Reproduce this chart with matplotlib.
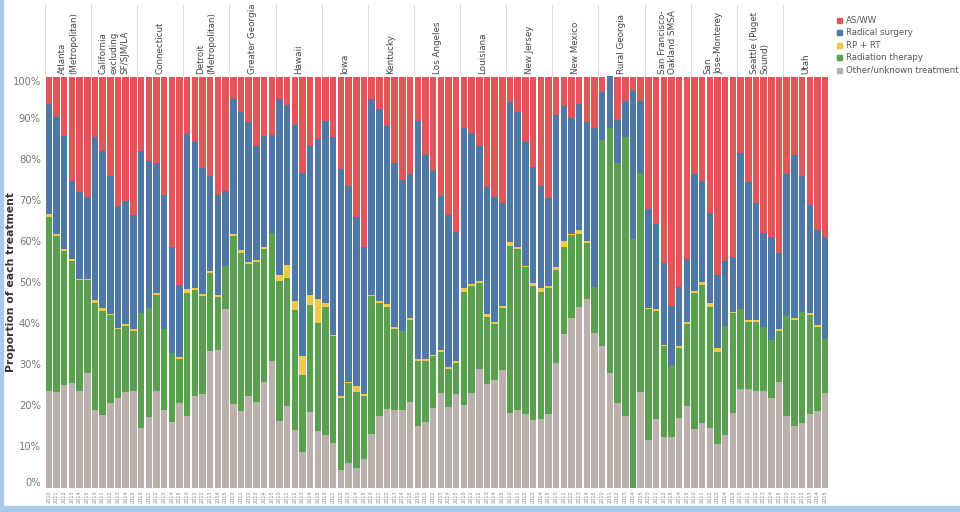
import numpy as np
import matplotlib.pyplot as plt
from matplotlib.patches import Rectangle

# SEER registries (6 diagnosis years each)
registries = ["Atlanta\n(Metropolitan)", "California\nexcluding\nSF/SJM/LA", "Connecticut",
              "Detroit\n(Metropolitan)", "Greater Georgia", "Hawaii", "Iowa", "Kentucky",
              "Los Angeles", "Louisiana", "New Jersey", "New Mexico", "Rural Georgia",
              "San Francisco-\nOakland SMSA", "San\nJose-Monterey", "Seattle (Puget\nSound)", "Utah"]
years = ["2010", "2011", "2012", "2013", "2014", "2015"]

# proportions (%) per registry/year, one row per registry
other = [23.6, 23.2, 25.0, 25.5, 23.5, 28.0,
         18.8, 17.6, 20.5, 21.7, 23.3, 23.6,
         14.4, 17.2, 23.6, 18.9, 15.9, 20.5,
         17.3, 22.3, 22.8, 33.3, 33.6, 43.4,
         20.3, 18.7, 22.3, 20.8, 25.8, 30.7,
         16.3, 19.8, 14.0, 8.6, 18.5, 13.8,
         12.8, 10.9, 4.3, 6.1, 4.7, 7.0,
         13.0, 17.5, 19.2, 18.9, 18.9, 20.8,
         15.0, 16.0, 19.3, 23.0, 19.7, 22.7,
         20.1, 23.1, 28.9, 25.1, 26.1, 28.6,
         18.1, 18.8, 17.9, 16.4, 16.8, 18.0,
         30.4, 37.4, 41.2, 43.9, 45.8, 37.7,
         34.4, 27.9, 20.7, 17.3, 0.0, 23.2,
         11.6, 16.8, 12.4, 12.2, 17.0, 19.8,
         14.2, 15.8, 14.4, 10.6, 12.8, 18.2,
         24.0, 24.1, 23.5, 23.6, 21.9, 25.6,
         17.4, 15.0, 15.8, 18.0, 18.6, 23.0]
radiation = [42.3, 37.9, 32.6, 29.6, 27.0, 22.4,
             26.1, 25.3, 21.4, 16.8, 16.0, 14.5,
             28.1, 26.6, 23.3, 19.7, 16.8, 10.8,
             30.1, 25.7, 23.8, 18.8, 12.8, 10.6,
             41.0, 38.3, 32.2, 34.0, 32.2, 31.2,
             33.9, 31.2, 29.2, 18.9, 25.9, 26.2,
             31.2, 26.0, 17.6, 19.3, 18.6, 15.3,
             33.5, 27.3, 24.7, 19.7, 19.3, 20.0,
             15.7, 14.7, 12.6, 10.0, 9.2, 7.5,
             27.6, 26.0, 20.9, 16.5, 13.8, 15.2,
             40.8, 39.2, 35.7, 32.7, 30.9, 30.6,
             22.6, 21.2, 20.2, 17.7, 13.7, 11.0,
             50.2, 59.7, 58.3, 68.1, 60.6, 53.3,
             31.9, 26.2, 22.0, 17.6, 17.0, 20.1,
             33.1, 33.6, 29.6, 22.5, 26.5, 24.2,
             19.4, 16.3, 16.9, 15.4, 13.9, 12.5,
             24.3, 25.7, 26.9, 23.9, 20.5, 13.1]
rp_rt = [0.6, 0.6, 0.4, 0.4, 0.3, 0.3,
         0.7, 0.8, 0.4, 0.4, 0.5, 0.4,
         0.0, 0.0, 0.5, 0.0, 0.0, 0.4,
         0.8, 0.6, 0.4, 0.5, 0.4, 0.0,
         0.4, 0.8, 0.5, 0.5, 0.5, 0.0,
         1.5, 3.2, 2.3, 4.5, 2.4, 6.0,
         0.8, 0.3, 0.5, 0.4, 1.3, 0.4,
         0.4, 0.5, 0.8, 0.5, 0.0, 0.4,
         0.5, 0.5, 0.4, 0.4, 0.4, 0.5,
         0.8, 0.5, 0.5, 0.6, 0.5, 0.4,
         0.9, 0.5, 0.4, 0.6, 0.8, 0.5,
         0.6, 1.4, 0.4, 1.1, 0.5, 0.0,
         0.0, 0.0, 0.0, 0.0, 0.0, 0.0,
         0.3, 0.4, 0.3, 0.0, 0.4, 0.3,
         0.6, 0.6, 0.8, 0.8, 0.0, 0.4,
         0.0, 0.5, 0.5, 0.0, 0.0, 0.5,
         0.0, 0.5, 0.0, 0.5, 0.4, 0.0]
surgery = [26.9, 28.5, 27.5, 19.2, 21.1, 19.9,
           39.8, 38.2, 33.6, 29.6, 29.9, 27.8,
           39.4, 35.6, 31.6, 32.6, 25.9, 17.6,
           37.8, 35.4, 30.8, 23.2, 24.5, 18.2,
           32.9, 33.6, 34.0, 27.7, 27.0, 24.0,
           42.9, 38.9, 42.7, 44.6, 36.2, 38.7,
           44.5, 48.1, 55.2, 47.7, 41.2, 35.9,
           47.6, 46.9, 43.3, 39.9, 36.6, 35.1,
           57.9, 49.8, 44.8, 37.5, 37.0, 31.4,
           39.1, 36.7, 32.8, 31.0, 30.4, 25.0,
           34.1, 32.9, 30.2, 28.2, 25.0, 21.3,
           37.1, 32.8, 28.1, 30.6, 29.0, 38.7,
           11.7, 12.6, 10.4, 8.7, 36.0, 17.6,
           23.9, 20.7, 19.9, 14.5, 14.3, 15.3,
           28.4, 24.6, 22.1, 17.8, 15.9, 13.4,
           38.1, 33.5, 28.4, 23.0, 25.1, 18.5,
           34.6, 39.7, 33.1, 26.4, 23.2, 24.8]
as_ww = [6.6, 9.8, 14.5, 25.3, 28.1, 29.4,
         14.6, 18.1, 24.1, 31.5, 30.3, 33.7,
         18.1, 20.6, 21.0, 28.8, 41.4, 50.7,
         14.0, 16.0, 22.2, 24.2, 28.7, 27.8,
         5.4, 8.6, 11.0, 17.0, 14.5, 14.1,
         5.4, 6.9, 11.8, 23.4, 17.0, 15.3,
         10.7, 14.7, 22.4, 26.5, 34.2, 41.4,
         5.5, 7.8, 12.0, 21.0, 25.2, 23.7,
         10.9, 19.0, 22.9, 29.1, 33.7, 37.9,
         12.4, 13.7, 16.9, 26.8, 29.2, 30.8,
         6.1, 8.6, 15.8, 22.1, 26.5, 29.6,
         9.3, 7.2, 10.1, 6.7, 11.0, 12.6,
         3.7, 0.0, 10.6, 5.9, 3.4, 5.9,
         32.3, 35.9, 45.4, 55.7, 51.3, 44.5,
         23.7, 25.4, 33.1, 48.3, 44.8, 43.8,
         18.5, 25.6, 30.7, 38.0, 39.1, 42.9,
         23.7, 19.1, 24.2, 31.2, 37.3, 39.1]

series = [("Other/unknown treatment", other, "#bab0ac"),
          ("Radiation therapy", radiation, "#59a14f"),
          ("RP + RT", rp_rt, "#edc948"),
          ("Radical surgery", surgery, "#4e79a7"),
          ("AS/WW", as_ww, "#e15759")]

W, H = 960, 512
fig = plt.figure(figsize=(W / 100, H / 100), dpi=100)

# main plot area, in pixels of the reference
left, right, top, bottom = 45, 829, 76.6, 487.6
ax = fig.add_axes([left / W, 1 - bottom / H, (right - left) / W, (bottom - top) / H])

n = len(other)
x = np.arange(n)
base = np.zeros(n)
for name, vals, col in series:
    vals = np.array(vals)
    ax.bar(x, vals, bottom=base, width=0.84, color=col, linewidth=0, clip_on=False)
    base += vals

ax.set_xlim(-0.5, n - 0.5)
ax.set_ylim(0, 100)
for s in ax.spines.values():
    s.set_visible(False)

ax.set_yticks(np.arange(0, 101, 10))
ax.set_yticklabels([f"{v}%" for v in range(0, 101, 10)], fontsize=7.2, color="#777777")
ylabs = ax.get_yticklabels()
ylabs[-1].set_va("top")
ylabs[0].set_va("bottom")
ax.set_xticks(x)
ax.set_xticklabels(years * len(registries), rotation=90, fontsize=3.6, color="#888888")
ax.tick_params(length=0, pad=2)
ax.tick_params(axis="y", pad=3)
ax.set_ylabel("Proportion of each treatment", fontsize=7.8, fontweight="bold", color="#333333")
# right edge of the rotated label sits about 16 px from the figure edge
ax.yaxis.set_label_coords((16 - left) / (right - left), 0.5)

# registry header above the bars
hax = fig.add_axes([left / W, 1 - top / H, (right - left) / W, (top - 5) / H])
hax.set_xlim(-0.5, n - 0.5)
hax.set_ylim(0, 1)
hax.axis("off")
for k in range(len(registries) + 1):
    hax.plot([6 * k - 0.5, 6 * k - 0.5], [0, 1], color="#dddddd", lw=0.8)
for k, reg in enumerate(registries):
    hax.text(6 * k + 2.5, 0.03, reg, rotation=90, ha="center", va="bottom",
             multialignment="left", fontsize=6.3, color="#444444", linespacing=1.25)

# legend
for k, (name, vals, col) in enumerate(reversed(series)):
    yy = 1 - (20 + 12.6 * k) / H
    fig.add_artist(Rectangle((837 / W, yy - 2.5 / H), 5 / W, 5 / H, color=col,
                             transform=fig.transFigure))
    fig.text(846 / W, yy, name, va="center", fontsize=6.2, color="#555555")

# light blue window frame
fig.add_artist(Rectangle((0, 0), 1, 6 / H, color="#a9cbe8", transform=fig.transFigure))
fig.add_artist(Rectangle((0, 0), 3 / W, 1, color="#a9cbe8", transform=fig.transFigure))

fig.savefig("out.png", dpi=100)
